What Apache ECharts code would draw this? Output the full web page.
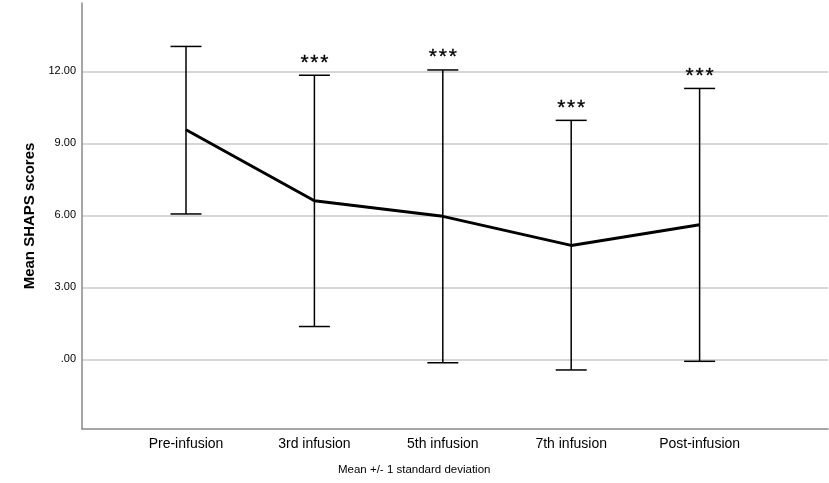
<!DOCTYPE html>
<html>
<head>
<meta charset="utf-8">
<script src="https://cdn.jsdelivr.net/npm/echarts@6/dist/echarts.min.js"></script>
<style>html,body{margin:0;padding:0;background:#fff}#c{width:829px;height:483px}</style>
</head>
<body>
<div id="c"></div>
<script>
var categories = ['Pre-infusion', '3rd infusion', '5th infusion', '7th infusion', 'Post-infusion'];
var means = [9.57, 6.61, 5.96, 4.75, 5.61];
var lows = [6.06, 1.37, -0.14, -0.44, -0.08];
var highs = [13.04, 11.84, 12.06, 9.96, 11.29];
var stars = ['', '***', '***', '***', '***'];
var yTicks = [0, 3, 6, 9, 12];

var chart = echarts.init(document.getElementById('c'));
var font = '"Liberation Sans", Arial, sans-serif';

var lineData = means.map(function (m, i) { return [i, m]; });
var errData = means.map(function (m, i) { return [i, lows[i], highs[i]]; });

chart.setOption({
  animation: false,
  backgroundColor: '#fff',
  grid: { left: 82, right: 1, top: 3, bottom: 54 },
  title: {
    text: 'Mean +/- 1 standard deviation',
    left: 333, top: 459,
    textStyle: { fontFamily: font, fontSize: 11.5, fontWeight: 'normal', color: '#000' }
  },
  xAxis: {
    type: 'value',
    min: -0.81, max: 5.0,
    axisLine: { show: true, onZero: false, lineStyle: { color: '#888', width: 1.5 } },
    axisTick: { show: false },
    splitLine: { show: false },
    axisLabel: {
      customValues: [0, 1, 2, 3, 4],
      formatter: function (v) { return categories[Math.round(v)] || ''; },
      fontFamily: font, fontSize: 14, color: '#000', margin: 8
    }
  },
  yAxis: {
    type: 'value',
    min: -2.9, max: 14.85,
    name: 'Mean SHAPS scores',
    nameLocation: 'middle',
    nameGap: 45,
    nameTextStyle: { fontFamily: font, fontSize: 15, fontWeight: 'bold', color: '#000' },
    axisLine: { show: true, onZero: false, lineStyle: { color: '#888', width: 1.5 } },
    axisTick: { show: false, customValues: yTicks },
    splitLine: { show: true, lineStyle: { color: '#c8c8c8', width: 1.5 } },
    axisLabel: {
      customValues: yTicks,
      formatter: function (v) { return v === 0 ? '.00' : v.toFixed(2); },
      fontFamily: font, fontSize: 11, color: '#000', margin: 6
    }
  },
  series: [
    {
      type: 'custom',
      data: errData,
      z: 3,
      renderItem: function (params, api) {
        var i = api.value(0);
        var lo = api.coord([i, api.value(1)]);
        var hi = api.coord([i, api.value(2)]);
        var hw = 15.5;
        var st = { stroke: '#000', lineWidth: 1.5 };
        var children = [
          { type: 'line', shape: { x1: lo[0], y1: lo[1], x2: hi[0], y2: hi[1] }, style: st },
          { type: 'line', shape: { x1: lo[0] - hw, y1: lo[1], x2: lo[0] + hw, y2: lo[1] }, style: st },
          { type: 'line', shape: { x1: hi[0] - hw, y1: hi[1], x2: hi[0] + hw, y2: hi[1] }, style: st }
        ];
        var s = stars[params.dataIndex];
        if (s) {
          children.push({
            type: 'text',
            style: {
              x: hi[0], y: hi[1] - 2, text: s.split('').join('\u200A'),
              align: 'center', verticalAlign: 'bottom',
              font: '21px ' + font, fill: '#000',
              stroke: '#000', lineWidth: 0.3
            }
          });
        }
        return { type: 'group', children: children };
      }
    },
    {
      type: 'line',
      data: lineData,
      symbol: 'none',
      z: 4,
      lineStyle: { color: '#000', width: 3 }
    }
  ]
});
</script>
</body>
</html>
